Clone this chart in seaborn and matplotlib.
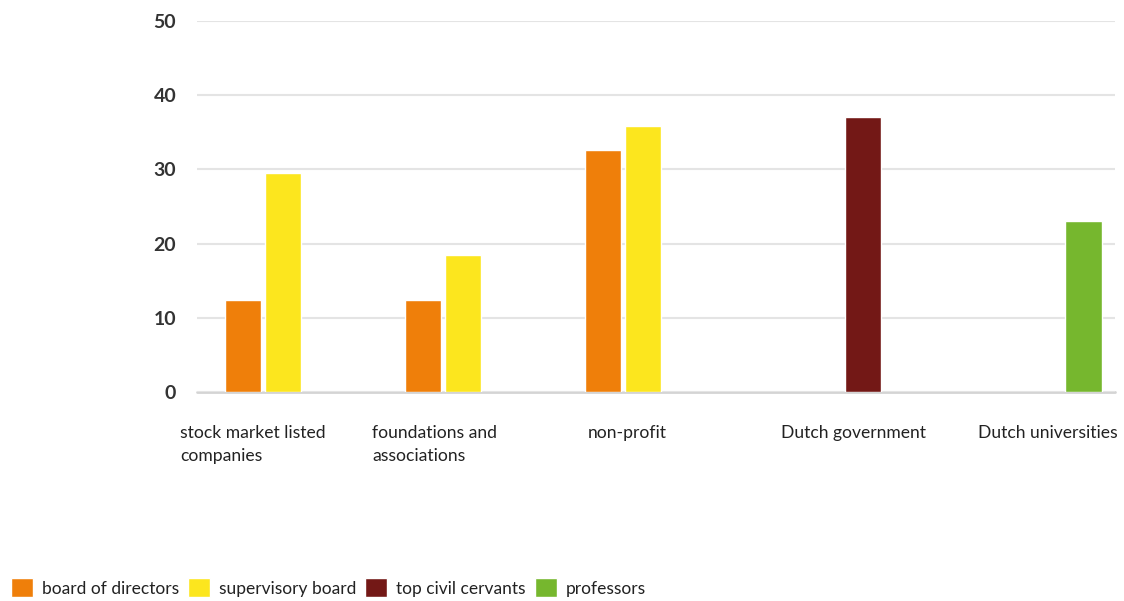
import pandas as pd
import matplotlib.pyplot as plt
import seaborn as sns

# Share of women (%) per sector and position
sectors = ["stock market listed\ncompanies", "foundations and\nassociations", "non-profit",
           "Dutch government", "Dutch universities"]
groups = ["board of directors", "supervisory board", "top civil cervants", "professors"]

board_of_directors = [12.4, 12.4, 32.6, None, None]
supervisory_board = [29.5, 18.5, 35.8, None, None]
top_civil_servants = [None, None, None, 37.0, None]
professors = [None, None, None, None, 23.1]

colors = ["#EF7F0A", "#FCE61E", "#731816", "#76B72E"]

rows = []
for g, vals in zip(groups, [board_of_directors, supervisory_board, top_civil_servants, professors]):
    for s, v in zip(sectors, vals):
        rows.append({"sector": s, "group": g, "share": v})
df = pd.DataFrame(rows)

sns.set_theme(style="white")
plt.rcParams["font.family"] = ["Lato", "DejaVu Sans"]

fig = plt.figure(figsize=(11.24, 6.01), dpi=100)
ax = fig.add_axes([0.1753, 0.3478, 0.8167, 0.6175])

sns.barplot(data=df, x="sector", y="share", hue="group", order=sectors, hue_order=groups,
            palette=colors, saturation=1, width=0.89, gap=0.08, errorbar=None, ax=ax)

ax.set_ylim(0, 50)
ax.set_xlim(-0.589, 4.511)
ax.set_yticks(range(0, 51, 10))
# labels in the original sit a bit off the category centres
ax.set_xticks([-0.28, 0.73, 1.8, 3.06, 4.14], sectors)
ax.yaxis.grid(True, color="#e4e4e4", lw=1.5)
ax.set_axisbelow(True)
ax.axhline(0, color="#d4d4d4", lw=2, clip_on=False, zorder=0)
for sp in ax.spines.values():
    sp.set_visible(False)
ax.set_xlabel("")
ax.set_ylabel("")
ax.tick_params(axis="y", length=0, pad=15, labelsize=14, labelcolor="#333333")
ax.tick_params(axis="x", length=0, pad=24, labelsize=12.6, labelcolor="#222222")
for lab in ax.get_yticklabels():
    lab.set_fontweight("bold")
for lab in ax.get_xticklabels():
    lab.set_multialignment("left")
    lab.set_linespacing(1.5)

handles, labels = ax.get_legend_handles_labels()
ax.get_legend().remove()
fig.legend(handles, labels, loc="center left", bbox_to_anchor=(-0.004, 0.022), ncol=4,
           frameon=False, handlelength=1.25, handleheight=1.3, handletextpad=0.5,
           columnspacing=0.55, fontsize=12.5, labelcolor="#222222")

fig.savefig("out.png", dpi=100)
